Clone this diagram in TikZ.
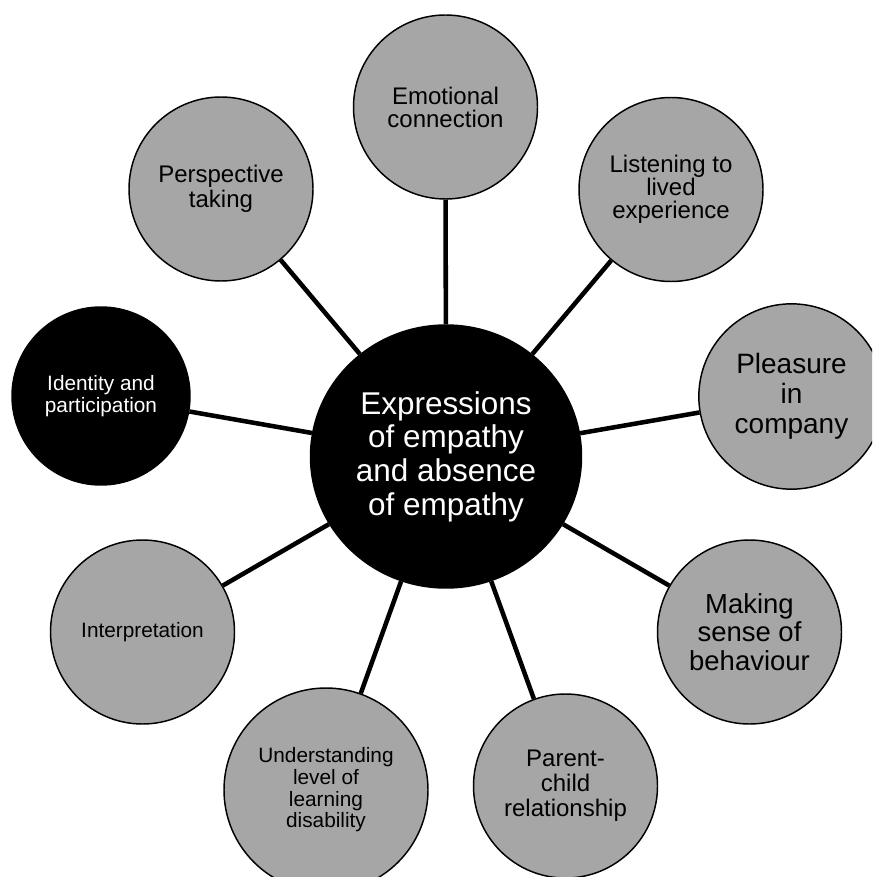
\documentclass[tikz,border=0pt]{standalone}
\usepackage{fontspec}
\setmainfont{Liberation Sans}
\usetikzlibrary{shapes.geometric,backgrounds}
\definecolor{bubblegray}{RGB}{166,166,166}
\begin{document}
\begin{tikzpicture}[x=0.75pt,y=-0.75pt,
  bubble/.style={circle,draw=black,line width=1.1pt,fill=bubblegray,inner sep=0pt,align=center,text=black,minimum size=138pt},
  darkbubble/.style={bubble,fill=black,text=white},
  link/.style={line width=3.4pt,black},
  fA/.style={font=\fontsize{18}{18.75}\selectfont},
  fB/.style={font=\fontsize{18}{17.25}\selectfont},
  fC/.style={font=\fontsize{21}{22.5}\selectfont},
  fD/.style={font=\fontsize{20.6}{21.5}\selectfont},
  fE/.style={font=\fontsize{15.6}{16.3}\selectfont},
]
\useasboundingbox (0,0) rectangle (872,877);
\clip (0,0) rectangle (872,877);
\node[ellipse,fill=black,draw=black,line width=1.1pt,inner sep=0pt,
      minimum width=203.25pt,minimum height=197.25pt,text=white,align=center,
      font=\fontsize{23.6}{25.3}\selectfont] (hub) at (446,456.5)
  {Expressions\\of empathy\\and absence\\of empathy};
\node[bubble,fB] (emo) at (445.5,107) {Emotional\\connection};
\node[bubble,fB] (listen) at (671,189.5) {Listening to\\lived\\experience};
\node[bubble,fC,minimum size=139pt] (pleasure) at (791.5,396.5) {Pleasure\\in\\company};
\node[bubble,fD] (making) at (749.5,632) {Making\\sense of\\behaviour};
\node[bubble,fA] (parent) at (565.5,786) {Parent-\\child\\relationship};
\node[bubble,fE,minimum size=153pt] (underst) at (326,790) {Understanding\\level of\\learning\\disability};
\node[bubble,fE] (interp) at (142.5,632) {Interpretation};
\node[darkbubble,fE,minimum size=133.5pt] (identity) at (101,396) {Identity and\\participation};
\node[bubble,fA] (persp) at (221,189) {Perspective\\taking};
\begin{scope}[on background layer]
\draw[link] (hub) -- (emo);
\draw[link] (hub) -- (listen);
\draw[link] (hub) -- (pleasure);
\draw[link] (hub) -- (making);
\draw[link] (hub) -- (parent);
\draw[link] (hub) -- (underst);
\draw[link] (hub) -- (interp);
\draw[link] (hub) -- (identity);
\draw[link] (hub) -- (persp);
\end{scope}
\end{tikzpicture}
\end{document}
